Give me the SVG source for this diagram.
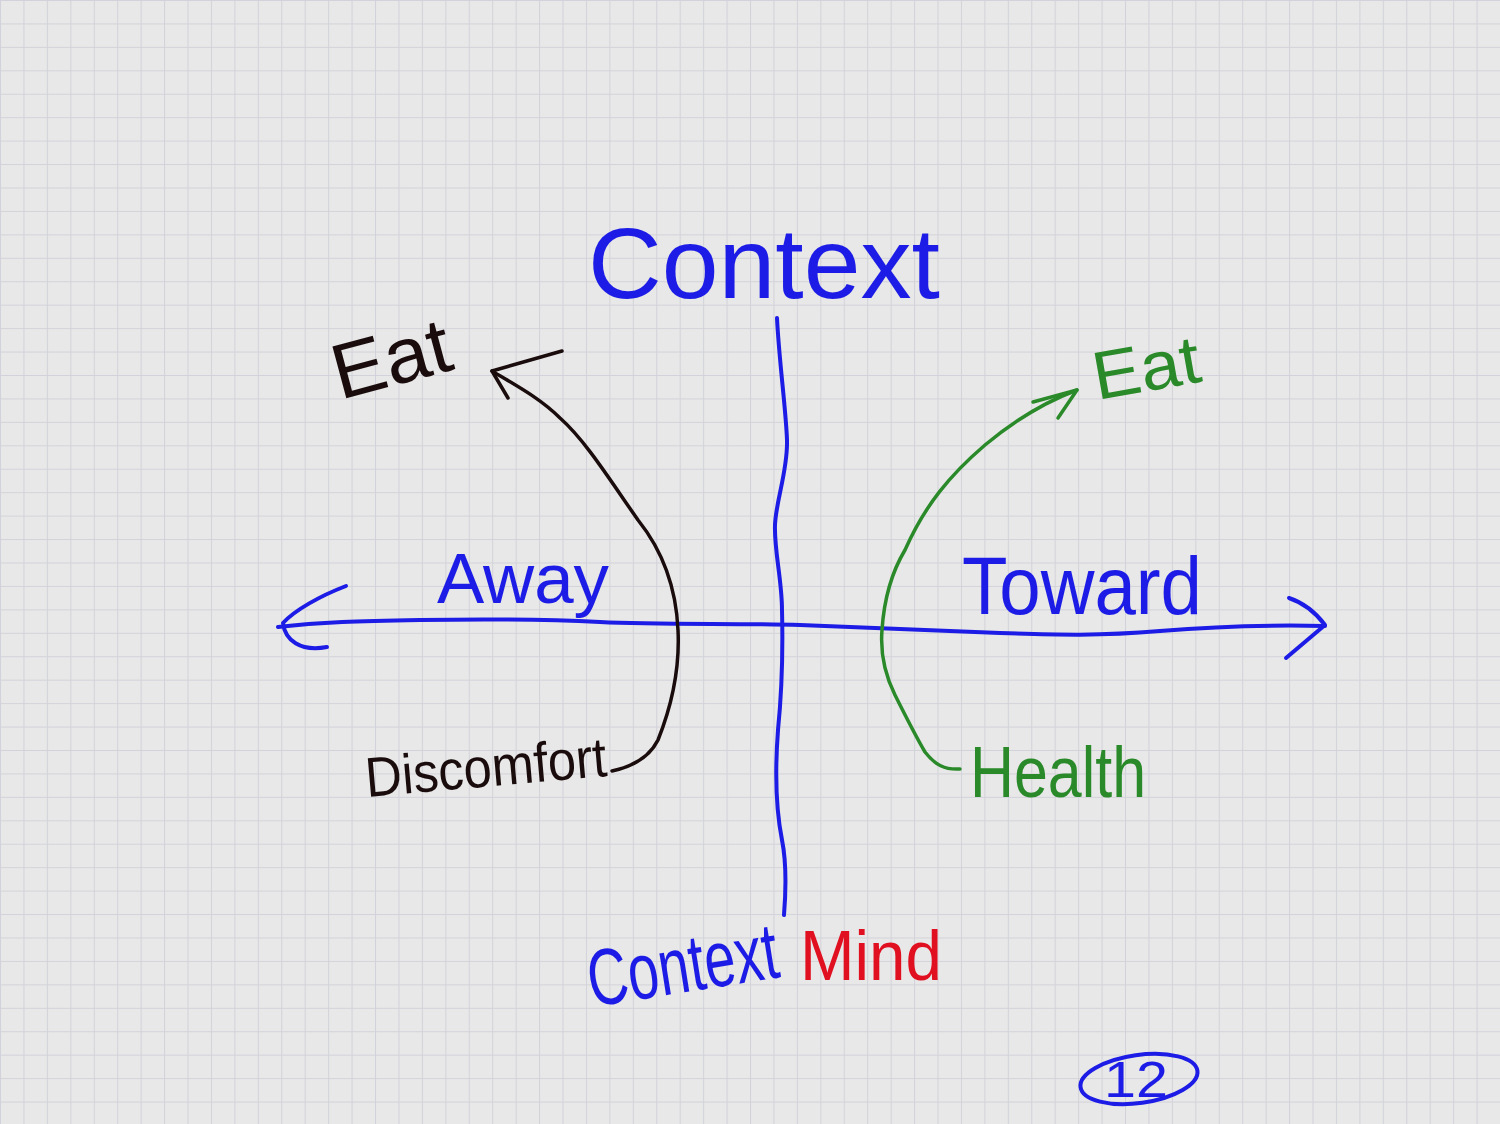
<svg xmlns="http://www.w3.org/2000/svg" width="1500" height="1124" viewBox="0 0 1500 1124">
<defs>
<pattern id="grid" width="23.4375" height="23.4375" patternUnits="userSpaceOnUse">
<rect width="23.4375" height="23.4375" fill="#e8e8e8"/>
<path d="M0,0 H23.4375 M0,0 V23.4375" stroke="#d2d2da" stroke-width="2" fill="none"/>
</pattern>
<style>
.ink{fill:none;stroke-linecap:round;stroke-linejoin:round}
.blue{stroke:#1c1ce6;stroke-width:4}
.black{stroke:#1a0c0c;stroke-width:3.5}
.green{stroke:#2a8a2a;stroke-width:3.5}
.t{font-family:"Liberation Sans","DejaVu Sans",sans-serif;font-weight:normal}
.tb{fill:#1c1ce6}
.tk{fill:#1a0c0c}
.tg{fill:#2a8a2a}
.tr{fill:#e01020}
</style>
</defs>
<rect x="0" y="0" width="1500" height="1124" fill="url(#grid)"/>

<g id="connectors">
<path id="axis-h" class="ink blue" d="M278,627 C320,622 360,621 420,620 S540,619 600,622 S740,623 800,625 S940,631 1000,633 S1100,636 1160,631 S1280,625 1325,626"/>
<path id="axis-h-left-head" class="ink blue" d="M346,586 C320,596 295,610 283,623 C285,640 300,652 327,647"/>
<path id="axis-h-right-head" class="ink blue" d="M1289,598 Q1310,605 1325,625 L1286,658"/>
<path id="axis-v" class="ink blue" d="M777,318 C779,360 786,410 787,440 C788,470 776,500 775,525 C774,550 782,580 782,610 C783,650 782,690 778,730 C775,770 776,810 782,840 C787,865 786,890 784,915"/>
<path id="discomfort-to-eat" class="ink black" d="M612,771 C640,765 652,752 658,740 C670,710 680,670 678,630 C676,585 662,550 638,520 C610,480 585,440 560,418 C540,398 515,385 492,371"/>
<path id="discomfort-head" class="ink black" d="M562,351 L492,371 L508,398"/>
<path id="health-to-eat" class="ink green" d="M960,769 C945,770 935,765 925,752 C915,735 905,715 895,695 C885,675 880,655 882,630 C884,600 890,575 905,550 C925,505 950,475 985,445 C1015,420 1045,402 1077,390"/>
<path id="health-head" class="ink green" d="M1033,402 L1077,390 L1058,418"/>
</g>

<g id="context-top"><text class="t tb" x="588" y="298" font-size="100" textLength="352" lengthAdjust="spacingAndGlyphs">Context</text></g>
<g id="eat-away"><text class="t tk" x="0" y="0" font-size="78" textLength="120" lengthAdjust="spacingAndGlyphs" transform="translate(340,400) rotate(-15)">Eat</text></g>
<g id="away"><text class="t tb" x="437" y="603" font-size="70" textLength="172" lengthAdjust="spacingAndGlyphs">Away</text></g>
<g id="toward"><text class="t tb" x="962" y="614" font-size="82" textLength="240" lengthAdjust="spacingAndGlyphs">Toward</text></g>
<g id="eat-toward"><text class="t tg" x="0" y="0" font-size="68" textLength="108" lengthAdjust="spacingAndGlyphs" transform="translate(1097,400) rotate(-10)">Eat</text></g>
<g id="discomfort"><text class="t tk" x="0" y="0" font-size="56" textLength="242" lengthAdjust="spacingAndGlyphs" transform="translate(367,797) rotate(-5)">Discomfort</text></g>
<g id="health"><text class="t tg" x="970" y="797" font-size="72" textLength="176" lengthAdjust="spacingAndGlyphs">Health</text></g>
<g id="context-bottom"><text class="t tb" x="0" y="0" font-size="80" textLength="192" lengthAdjust="spacingAndGlyphs" transform="translate(592,1007) rotate(-9)">Context</text></g>
<g id="mind"><text class="t tr" x="800" y="980" font-size="70" textLength="142" lengthAdjust="spacingAndGlyphs">Mind</text></g>
<g id="page-number">
<ellipse cx="1139" cy="1079" rx="59" ry="24" transform="rotate(-8 1139 1079)" class="ink blue"/>
<text class="t tb" x="1104" y="1097" font-size="50" textLength="64" lengthAdjust="spacingAndGlyphs">12</text>
</g>
</svg>
